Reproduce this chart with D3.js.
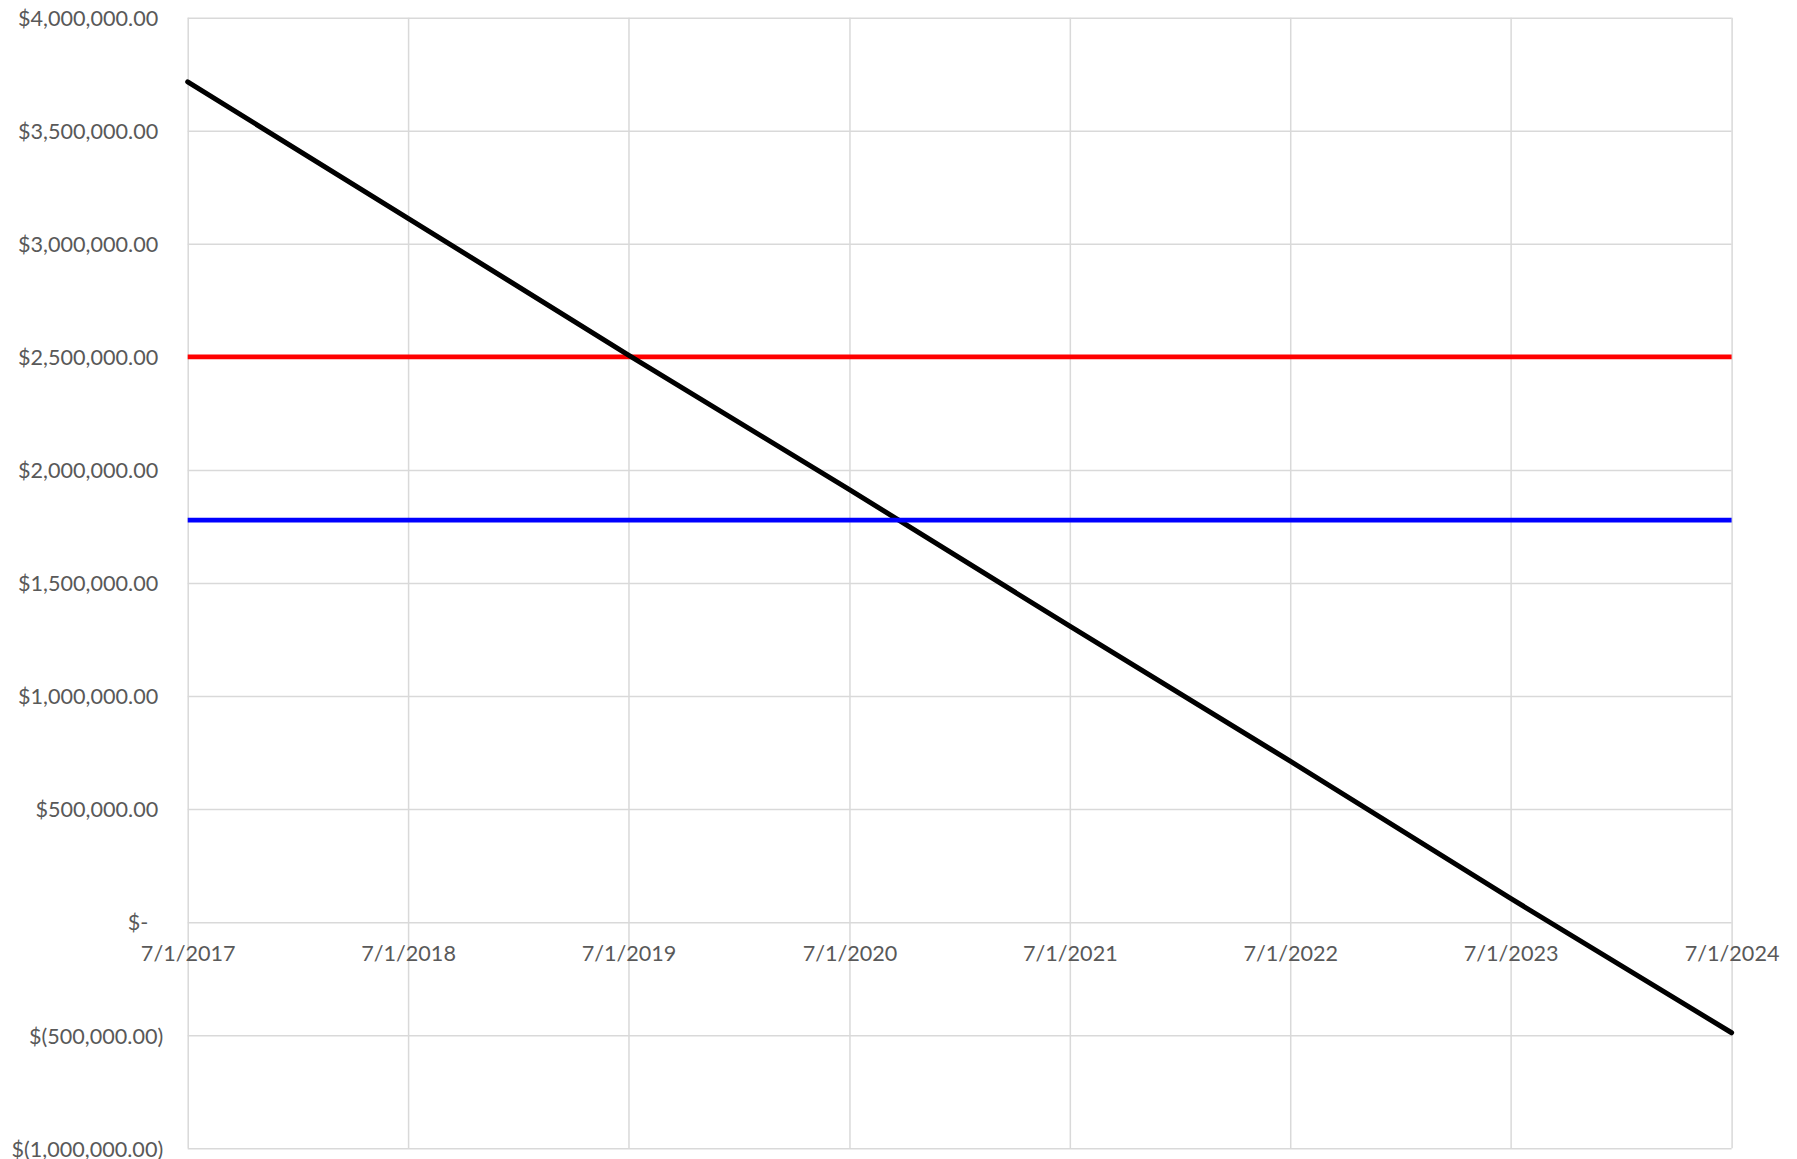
<!DOCTYPE html>
<html>
<head>
<meta charset="utf-8">
<script src="https://cdn.jsdelivr.net/npm/d3@7"></script>
<style>
  html, body { margin: 0; padding: 0; background: #fff; }
  svg { display: block; }
  text { font-family: Lato, "Open Sans", sans-serif; font-size: 21.6px; fill: #595959; }
</style>
</head>
<body>
<svg id="chart" width="1797" height="1159"></svg>
<script>
// ---- data ----
const dates = ["2017-07-01", "2018-07-01", "2019-07-01", "2020-07-01", "2021-07-01", "2022-07-01", "2023-07-01", "2024-07-01"];
const balance = [3716000, 3113000, 2508000, 1913000, 1309000, 712000, 105000, -489000];
const redLevel = [2500000, 2500000, 2500000, 2500000, 2500000, 2500000, 2500000, 2500000];
const blueLevel = [1778000, 1778000, 1778000, 1778000, 1778000, 1778000, 1778000, 1778000];
const yTicks = [-1000000, -500000, 0, 500000, 1000000, 1500000, 2000000, 2500000, 3000000, 3500000, 4000000];

// ---- layout ----
const W = 1797, H = 1159;
const pLeft = 187.7, pRight = 1731.6, pTop = 17.7, pBottom = 1148.3;

const parse = d3.timeParse("%Y-%m-%d");
const xDates = dates.map(parse);

const x = d3.scaleTime().domain([xDates[0], xDates[xDates.length - 1]]).range([pLeft, pRight]);
const y = d3.scaleLinear().domain([-1000000, 4000000]).range([pBottom, pTop]);

const svg = d3.select("#chart");

const num = d3.format(",.2f");
function acct(v) {
  if (v === 0) return "$-";
  if (v < 0) return "$(" + num(-v) + ")";
  return "$" + num(v);
}

// horizontal gridlines + y labels
const yAxis = svg.append("g")
  .attr("transform", `translate(${pLeft},0)`)
  .call(d3.axisLeft(y).tickValues(yTicks).tickSize(-(pRight - pLeft)).tickFormat(acct).tickPadding(0));
yAxis.select(".domain").remove();
yAxis.selectAll(".tick line").attr("stroke", "#d9d9d9").attr("stroke-width", 1.5);
yAxis.selectAll(".tick text")
  .attr("x", d => d > 0 ? -29.5 : (d === 0 ? -39.5 : -24.5))
  .attr("dy", "0.36em")
  .attr("text-anchor", "end")
  .attr("fill", "#595959");

// vertical gridlines
const xGrid = svg.append("g")
  .attr("transform", `translate(0,${pBottom})`)
  .call(d3.axisBottom(x).tickValues(xDates).tickSize(-(pBottom - pTop)).tickFormat(""));
xGrid.select(".domain").remove();
xGrid.selectAll(".tick line").attr("stroke", "#d9d9d9").attr("stroke-width", 1.5);

// x labels at zero line
const xFmt = d => (d.getMonth() + 1) + "/" + d.getDate() + "/" + d.getFullYear();
const xAxis = svg.append("g")
  .attr("transform", `translate(0,${y(0)})`)
  .call(d3.axisBottom(x).tickValues(xDates).tickSize(0).tickFormat(xFmt));
xAxis.select(".domain").remove();
xAxis.selectAll(".tick text")
  .attr("y", 39).attr("dy", 0)
  .attr("fill", "#595959");
svg.selectAll("g").attr("font-family", null).attr("font-size", null);

// series
const line = d3.line().x((d, i) => x(xDates[i])).y(d => y(d));

svg.append("path").datum(redLevel)
  .attr("d", line).attr("fill", "none").attr("stroke", "#ff0000").attr("stroke-width", 4.8);
svg.append("path").datum(balance)
  .attr("d", line).attr("fill", "none").attr("stroke", "#000000").attr("stroke-width", 5)
  .attr("stroke-linecap", "round").attr("stroke-linejoin", "round");
svg.append("path").datum(blueLevel)
  .attr("d", line).attr("fill", "none").attr("stroke", "#0000ff").attr("stroke-width", 4.8);
</script>
</body>
</html>
